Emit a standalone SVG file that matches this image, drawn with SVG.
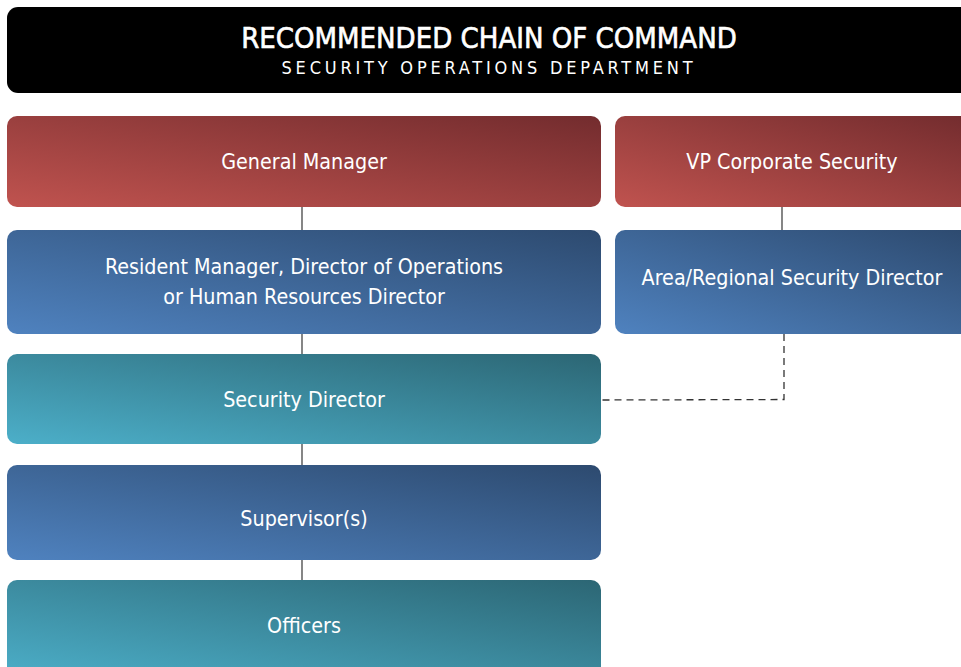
<svg xmlns="http://www.w3.org/2000/svg" width="961" height="667" viewBox="0 0 961 667">
  <defs>
    <linearGradient id="gRed" x1="0" y1="1" x2="1" y2="0">
      <stop offset="0" stop-color="#c0534f"/>
      <stop offset="1" stop-color="#732c2e"/>
    </linearGradient>
    <linearGradient id="gBlue" x1="0" y1="1" x2="1" y2="0">
      <stop offset="0" stop-color="#4f82bf"/>
      <stop offset="1" stop-color="#2d4a6f"/>
    </linearGradient>
    <linearGradient id="gTeal" x1="0" y1="1" x2="1" y2="0">
      <stop offset="0" stop-color="#4cafc9"/>
      <stop offset="1" stop-color="#2c6674"/>
    </linearGradient>
    <style>
      .lbl { font-family: "Liberation Sans Narrow", "DejaVu Sans Condensed", "Open Sans", sans-serif; font-size: 21.3px; fill: #ffffff; text-anchor: middle; }
      .title { font-family: "Liberation Sans Narrow", "DejaVu Sans Condensed", "Open Sans", sans-serif; fill: #ffffff; text-anchor: middle; }
      .link { stroke: #444444; stroke-width: 1.3; fill: none; }
      .dash { stroke: #333333; stroke-width: 1.3; fill: none; stroke-dasharray: 7 5; }
    </style>
  </defs>

  <rect width="961" height="667" fill="#ffffff"/>

  <!-- header bar -->
  <g id="header">
    <rect x="7" y="7" width="966" height="86" rx="11" fill="#000000"/>
    <text class="title" x="489" y="48" font-size="29" stroke="#ffffff" stroke-width="0.6">RECOMMENDED CHAIN OF COMMAND</text>
    <text class="title" x="489" y="74" font-size="18" letter-spacing="3.8">SECURITY OPERATIONS DEPARTMENT</text>
  </g>

  <!-- connectors -->
  <g id="connectors">
    <line class="link" x1="302" y1="207" x2="302" y2="230"/>
    <line class="link" x1="302" y1="334" x2="302" y2="354"/>
    <line class="link" x1="302" y1="444" x2="302" y2="465"/>
    <line class="link" x1="302" y1="560" x2="302" y2="580"/>
    <line class="link" x1="782" y1="207" x2="782" y2="230"/>
    <polyline class="dash" points="784,334 784,399.5 601,400"/>
  </g>

  <g id="general-manager">
    <rect x="7" y="116" width="594" height="91" rx="10" fill="url(#gRed)"/>
    <text class="lbl" x="304" y="169">General Manager</text>
  </g>

  <g id="vp-corporate-security">
    <rect x="615" y="116" width="356" height="91" rx="10" fill="url(#gRed)"/>
    <text class="lbl" x="792" y="169">VP Corporate Security</text>
  </g>

  <g id="resident-manager">
    <rect x="7" y="230" width="594" height="104" rx="10" fill="url(#gBlue)"/>
    <text class="lbl" x="304" y="274">Resident Manager, Director of Operations</text>
    <text class="lbl" x="304" y="304">or Human Resources Director</text>
  </g>

  <g id="area-regional-director">
    <rect x="615" y="230" width="356" height="104" rx="10" fill="url(#gBlue)"/>
    <text class="lbl" x="792" y="285">Area/Regional Security Director</text>
  </g>

  <g id="security-director">
    <rect x="7" y="354" width="594" height="90" rx="10" fill="url(#gTeal)"/>
    <text class="lbl" x="304" y="407">Security Director</text>
  </g>

  <g id="supervisors">
    <rect x="7" y="465" width="594" height="95" rx="10" fill="url(#gBlue)"/>
    <text class="lbl" x="304" y="526">Supervisor(s)</text>
  </g>

  <g id="officers">
    <rect x="7" y="580" width="594" height="100" rx="10" fill="url(#gTeal)"/>
    <text class="lbl" x="304" y="633">Officers</text>
  </g>
</svg>
